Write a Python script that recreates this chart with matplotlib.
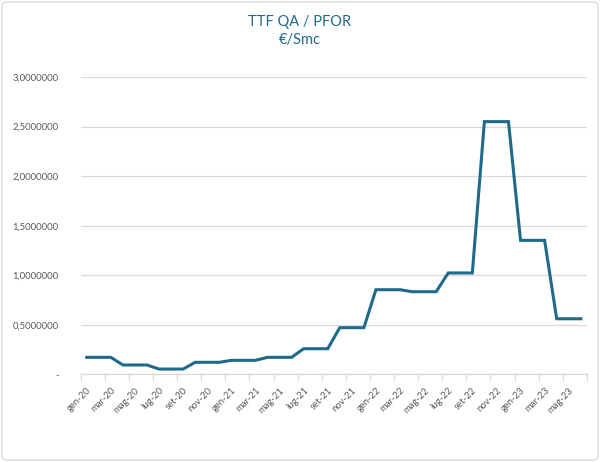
import matplotlib
matplotlib.use("Agg")
import matplotlib.pyplot as plt
from matplotlib.patches import FancyBboxPatch
import numpy as np

months_it = ["gen", "feb", "mar", "apr", "mag", "giu", "lug", "ago", "set", "ott", "nov", "dic"]
years = ["20", "21", "22", "23"]
categories = [f"{m}-{y}" for y in years for m in months_it][:42]  # gen-20 .. giu-23

values = [
    0.173, 0.173, 0.173,   # Q1-20
    0.096, 0.096, 0.096,   # Q2-20
    0.055, 0.055, 0.055,   # Q3-20
    0.123, 0.123, 0.123,   # Q4-20
    0.143, 0.143, 0.143,   # Q1-21
    0.173, 0.173, 0.173,   # Q2-21
    0.260, 0.260, 0.260,   # Q3-21
    0.472, 0.472, 0.472,   # Q4-21
    0.855, 0.855, 0.855,   # Q1-22
    0.835, 0.835, 0.835,   # Q2-22
    1.024, 1.024, 1.024,   # Q3-22
    2.550, 2.550, 2.550,   # Q4-22
    1.353, 1.353, 1.353,   # Q1-23
    0.562, 0.562, 0.562,   # Q2-23
]

title = "TTF QA / PFOR\n€/Smc"
yticks = [0, 0.5, 1.0, 1.5, 2.0, 2.5, 3.0]

plt.rcParams['font.family'] = ['Lato', 'DejaVu Sans']

fig = plt.figure(figsize=(6, 4.62), dpi=100)
ax = fig.add_axes([0.1345, 0.1894, 0.8435, 0.6439])

line_color = "#1F6A8B"
x = np.arange(len(categories))
ax.plot(x, values, color=line_color, linewidth=2.2, solid_joinstyle="miter")

ax.set_xlim(-0.5, len(categories) - 0.5)
ax.set_ylim(0, 3.0)

ax.set_yticks(yticks)
def fmt(v):
    if v == 0:
        return "-"
    return f"{v:.7f}".replace(".", ",")
ax.set_yticklabels([fmt(v) for v in yticks], fontsize=6.8, color="#595959")
ax.tick_params(axis="y", length=0, pad=16)
ax.grid(axis="y", color="#D9D9D9", linewidth=0.9)
ax.set_axisbelow(True)

# x: labels every 2 months at category centers, ticks at boundaries
lab_idx = list(range(0, len(categories), 2))
ax.set_xticks(lab_idx)
ax.set_xticklabels([categories[i] for i in lab_idx], rotation=45, ha="right",
                   rotation_mode="anchor", fontsize=6.8, color="#595959")
ax.tick_params(axis="x", length=0, pad=8)
for b in np.arange(-0.5, len(categories), 2):
    ax.plot([b, b], [0, -0.06], color="#D9D9D9", linewidth=0.9, clip_on=False)

for s in ["top", "right", "left"]:
    ax.spines[s].set_visible(False)
ax.spines["bottom"].set_color("#D9D9D9")
ax.spines["bottom"].set_linewidth(0.9)

fig.text(0.5, 0.968, title, ha="center", va="top", fontsize=10.5, color="#1F6A8B",
         linespacing=1.4)

border = FancyBboxPatch((0.003, 0.004), 0.994, 0.992, boxstyle="round,pad=0,rounding_size=0.01",
                        transform=fig.transFigure, fill=False, edgecolor="#D9D9D9", linewidth=1.0)
fig.patches.append(border)

fig.savefig("out.png", dpi=100)
